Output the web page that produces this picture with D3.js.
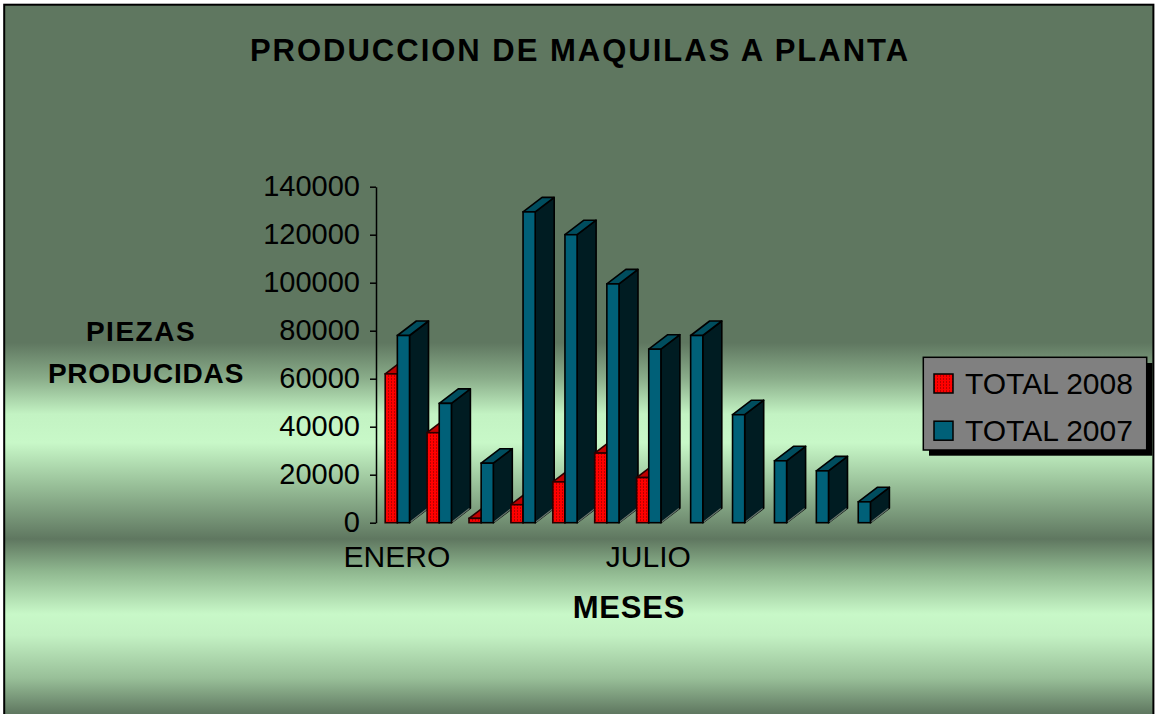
<!DOCTYPE html>
<html><head><meta charset="utf-8">
<script src="https://cdn.jsdelivr.net/npm/d3@7"></script>
<style>html,body{margin:0;padding:0;background:#fff;} svg{display:block;}</style>
</head><body>
<svg id="chart" width="1155" height="714"></svg>
<script>
// ---- data ----
const months = ["ENERO","FEBRERO","MARZO","ABRIL","MAYO","JUNIO","JULIO","AGOSTO","SEPTIEMBRE","OCTUBRE","NOVIEMBRE","DICIEMBRE"];
const total2008 = [62000, 37500, 1800, 7500, 17000, 29000, 18800, null, null, null, null, null];
const total2007 = [78000, 49700, 24800, 129500, 120000, 99500, 72300, 78000, 45000, 25800, 21600, 8700];
const seriesNames = ["TOTAL 2008", "TOTAL 2007"];
const yTickValues = [0, 20000, 40000, 60000, 80000, 100000, 120000, 140000];
const xTickLabels = ["ENERO", "JULIO"];
const chartTitle = "PRODUCCION DE MAQUILAS A PLANTA";
const yTitleLines = ["PIEZAS", "PRODUCIDAS"];
const xTitle = "MESES";

// ---- layout ----
const W = 1155, H = 714;
const FONT = "'Liberation Sans', Arial, Helvetica, sans-serif";
const svg = d3.select("#chart");
const defs = svg.append("defs");

// background gradient
const grad = defs.append("linearGradient").attr("id","bg")
  .attr("gradientUnits","userSpaceOnUse").attr("x1",0).attr("y1",0).attr("x2",0).attr("y2",H);
[[0,"#5f7760"],[0.48,"#5f7760"],[0.53,"#8aad8a"],[0.58,"#c3f3c3"],[0.62,"#c8f8c8"],
 [0.68,"#98bf98"],[0.755,"#5f7760"],[0.80,"#8fb78f"],[0.86,"#c8f8c8"],[0.89,"#c3f1c3"],
 [0.95,"#98bf98"],[1,"#5f7760"]]
 .forEach(([o,c]) => grad.append("stop").attr("offset",o).attr("stop-color",c));

// red pattern
const pat = defs.append("pattern").attr("id","redpat").attr("patternUnits","userSpaceOnUse")
  .attr("width",3).attr("height",3);
pat.append("rect").attr("width",3).attr("height",3).attr("fill","#ff0000");
pat.append("rect").attr("x",1).attr("y",0).attr("width",1).attr("height",2).attr("fill","#b80000");

svg.append("rect").attr("width",W).attr("height",H).attr("fill","#ffffff");
svg.append("rect").attr("x",4.2).attr("y",4.7).attr("width",1149.2).attr("height",730)
  .attr("fill","url(#bg)").attr("stroke","#000").attr("stroke-width",2);

// scales
const x = d3.scaleBand().domain(months).range([376, 376 + 12 * 41.9]);
const sub = d3.scaleBand().domain(seriesNames).range([9.2, 33.5]);
const y = d3.scaleLinear().domain([0, 140000]).range([522.7, 186.7]);

const DX = 19, DY = 14.5;
const styles = {
  "TOTAL 2008": {front:"url(#redpat)", top:"#c00000", side:"#800000", stroke:"#2a0000"},
  "TOTAL 2007": {front:"#006078", top:"#004d5e", side:"#001c22", stroke:"#000000"}
};

// bars, drawn left to right
const bars = [];
months.forEach((m, i) => {
  [[seriesNames[0], total2008[i]], [seriesNames[1], total2007[i]]].forEach(([s, v]) => {
    if (v != null) bars.push({m, s, v});
  });
});
const gBars = svg.append("g");
bars.forEach(d => {
  const st = styles[d.s];
  const x0 = x(d.m) + sub(d.s), w = sub.bandwidth();
  const yt = y(d.v), yb = y(0);
  const g = gBars.append("g");
  g.append("polygon").attr("points", [[x0+w,yt],[x0+w+DX,yt-DY],[x0+w+DX,yb-DY],[x0+w,yb]].join(" "))
    .attr("fill", st.side).attr("stroke", st.stroke).attr("stroke-width",1.6).attr("stroke-linejoin","round");
  g.append("line").attr("x1",x0+w+1).attr("y1",yb-1).attr("x2",x0+w+DX-1).attr("y2",yb-DY+0.3)
    .attr("stroke","#667870").attr("stroke-width",1.2);
  g.append("polygon").attr("points", [[x0,yt],[x0+w,yt],[x0+w+DX,yt-DY],[x0+DX,yt-DY]].join(" "))
    .attr("fill", st.top).attr("stroke", st.stroke).attr("stroke-width",1.6).attr("stroke-linejoin","round");
  g.append("rect").attr("x",x0).attr("y",yt).attr("width",w).attr("height",yb-yt)
    .attr("fill", st.front).attr("stroke", st.stroke).attr("stroke-width",1.6);
});

// y axis
const yAxis = svg.append("g").attr("transform","translate(376,0)")
  .call(d3.axisLeft(y).tickValues(yTickValues).tickSize(6).tickSizeOuter(0).tickPadding(10).tickFormat(d3.format("d")));
yAxis.selectAll("path,line").attr("stroke","#000").attr("stroke-width",1.5);
yAxis.selectAll("text").attr("font-family",FONT).attr("font-size",29).attr("fill","#000");

// x axis labels
const xAxis = svg.append("g").attr("transform","translate(0,522.7)")
  .call(d3.axisBottom(x).tickValues(xTickLabels).tickSize(0).tickPadding(23));
xAxis.select(".domain").remove();
xAxis.selectAll("text").attr("font-family",FONT).attr("font-size",30).attr("fill","#000");

// titles
svg.append("text").attr("x",580).attr("y",61).attr("text-anchor","middle")
  .attr("font-family",FONT).attr("font-weight","bold").attr("font-size",31)
  .attr("letter-spacing",2).text(chartTitle);
svg.append("text").attr("x",629).attr("y",618).attr("text-anchor","middle")
  .attr("font-family",FONT).attr("font-weight","bold").attr("font-size",31)
  .attr("letter-spacing",0.8).text(xTitle);
svg.append("text").attr("x",141).attr("y",341).attr("text-anchor","middle")
  .attr("font-family",FONT).attr("font-weight","bold").attr("font-size",28)
  .attr("letter-spacing",1.5).text(yTitleLines[0]);
svg.append("text").attr("x",146).attr("y",383).attr("text-anchor","middle")
  .attr("font-family",FONT).attr("font-weight","bold").attr("font-size",28)
  .attr("letter-spacing",0.8).text(yTitleLines[1]);

// legend
const lg = svg.append("g");
lg.append("rect").attr("x",929).attr("y",363).attr("width",223.4).attr("height",92.7).attr("fill","#000");
lg.append("rect").attr("x",923.3).attr("y",357.3).attr("width",223.4).attr("height",92.7)
  .attr("fill","#808080").attr("stroke","#000").attr("stroke-width",1.5);
seriesNames.forEach((s, i) => {
  const yy = 374 + i * 47.2;
  lg.append("rect").attr("x",934).attr("y",yy).attr("width",19).attr("height",19)
    .attr("fill", styles[s].front).attr("stroke","#000").attr("stroke-width",1.5);
  lg.append("text").attr("x",965).attr("y",yy + 19.5).attr("font-family",FONT).attr("font-size",30)
    .attr("fill","#000").text(s);
});
</script>
</body></html>
